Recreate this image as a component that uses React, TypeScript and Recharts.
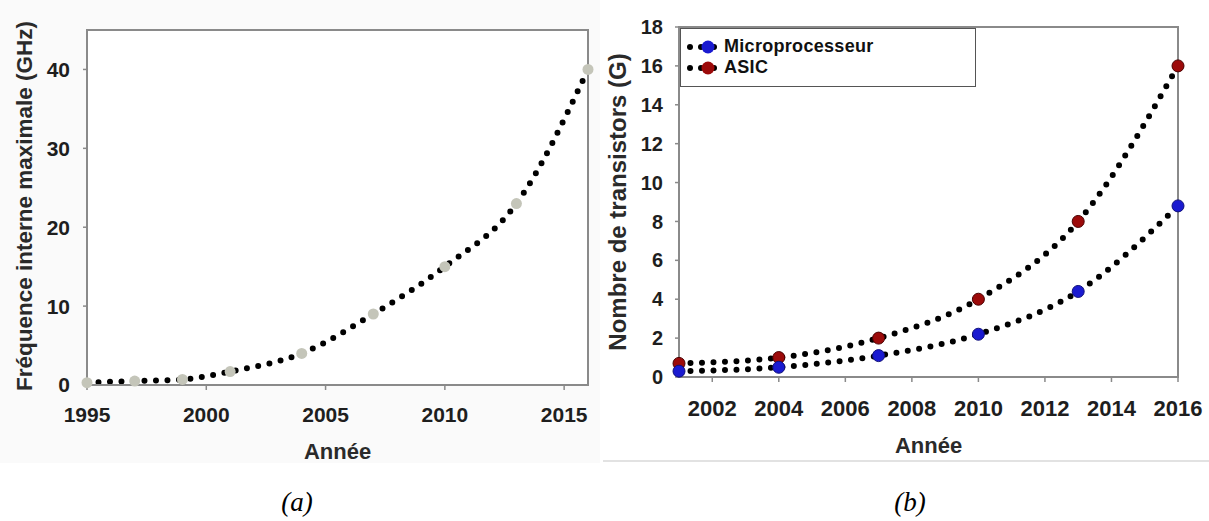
import React from 'react'
import { LineChart, Line, XAxis, YAxis, ReferenceArea, Legend, Label } from 'recharts'

// (a) max internal frequency
const freqYears = [1995, 1997, 1999, 2001, 2004, 2007, 2010, 2013, 2016]
const freqGhz = [0.3, 0.5, 0.7, 1.7, 4, 9, 15, 23, 40]
const freqTicksX = [1995, 2000, 2005, 2010, 2015]
const freqTicksY = [0, 10, 20, 30, 40]

// (b) transistor count
const transYears = [2001, 2004, 2007, 2010, 2013, 2016]
const microG = [0.3, 0.5, 1.1, 2.2, 4.4, 8.8]
const asicG = [0.7, 1.0, 2.0, 4.0, 8.0, 16.0]
const transTicksX = [2002, 2004, 2006, 2008, 2010, 2012, 2014, 2016]
const transTicksY = [0, 2, 4, 6, 8, 10, 12, 14, 16, 18]

const freqData = freqYears.map((year, i) => ({ year, ghz: freqGhz[i] }))
const transData = transYears.map((year, i) => ({ year, micro: microG[i], asic: asicG[i] }))

const GREY = '#8a8a8a'
const SANS = "'Liberation Sans', Arial, sans-serif"
const tickStyle = { fontSize: 21, fontWeight: 700, fill: '#1e1e1e', fontFamily: SANS }
const titleStyle = { fontSize: 22, fontWeight: 700, fill: '#2a2a2a', fontFamily: SANS }

const dotted = {
  stroke: '#000',
  strokeWidth: 6,
  strokeLinecap: 'round' as const,
  strokeDasharray: '0 11.5',
  type: 'monotone' as const,
  isAnimationActive: false,
  activeDot: false,
}

function yTitle(text: string, cx: number, cy: number, size: number) {
  return () => (
    <text
      x={cx}
      y={cy}
      transform={`rotate(-90 ${cx} ${cy})`}
      textAnchor="middle"
      dominantBaseline="central"
      style={{ fontSize: size, fontWeight: 700, fill: '#2a2a2a', fontFamily: SANS }}
    >
      {text}
    </text>
  )
}

function LegendIcon({ color }: { color: string }) {
  return (
    <svg width={40} height={18} style={{ display: 'block' }}>
      <circle cx={9} cy={9} r={3} fill="#000" />
      <circle cx={20} cy={9} r={3} fill="#000" />
      <circle cx={33} cy={9} r={3} fill="#000" />
      <circle cx={27} cy={9} r={6.5} fill={color} />
    </svg>
  )
}

function TransLegend() {
  const rows = [
    { name: 'Microprocesseur', color: '#1a1ad0' },
    { name: 'ASIC', color: '#9c0a0a' },
  ]
  return (
    <div
      style={{
        width: 296,
        height: 59,
        boxSizing: 'border-box',
        border: '1.5px solid #555',
        background: '#fff',
        paddingTop: 7,
      }}
    >
      {rows.map((r) => (
        <div key={r.name} style={{ display: 'flex', alignItems: 'center', height: 21 }}>
          <LegendIcon color={r.color} />
          <div
            style={{
              marginLeft: 3,
              height: 21,
              fontFamily: SANS,
              fontWeight: 700,
              fontSize: 18,
              letterSpacing: 0.3,
              color: '#111',
              lineHeight: '21px',
            }}
          >
            {r.name}
          </div>
        </div>
      ))}
    </div>
  )
}

export default function App() {
  return (
    <div style={{ position: 'fixed', left: 0, top: 0, width: 1209, height: 521, background: '#fff' }}>
      <div style={{ position: 'absolute', left: 0, top: 0, width: 600, height: 463, background: '#fafafa' }} />
      <div style={{ position: 'absolute', left: 603, top: 460, width: 606, height: 2, background: '#e2e2e2' }} />

      <div style={{ position: 'absolute', left: 0, top: 0 }}>
        <LineChart width={600} height={470} data={freqData} margin={{ top: 30, right: 12, left: 17, bottom: 45 }}>
          <XAxis
            dataKey="year"
            type="number"
            domain={[1995, 2016]}
            ticks={freqTicksX}
            height={40}
            tickSize={5}
            tickMargin={17}
            axisLine={{ stroke: GREY, strokeWidth: 2 }}
            tickLine={{ stroke: GREY, strokeWidth: 1.5 }}
            tick={tickStyle}
          >
            <Label value="Année" position="bottom" offset={18} style={titleStyle} />
          </XAxis>
          <YAxis
            type="number"
            domain={[0, 45]}
            ticks={freqTicksY}
            width={70}
            tickSize={4}
            tickMargin={13}
            axisLine={{ stroke: GREY, strokeWidth: 2 }}
            tickLine={{ stroke: GREY, strokeWidth: 1.5 }}
            tick={tickStyle}
          >
            <Label content={yTitle('Fréquence interne maximale (GHz)', 24, 206, 22.5)} />
          </YAxis>
          <ReferenceArea x1={1995} x2={2016} y1={0} y2={45} fill="#fff" fillOpacity={1} stroke={GREY} strokeWidth={2} />
          <Line
            dataKey="ghz"
            {...dotted}
            dot={{ r: 5.5, fill: '#c4c5b9', stroke: 'none', strokeWidth: 0, strokeDasharray: 'none' }}
          />
        </LineChart>
      </div>

      <div style={{ position: 'absolute', left: 600, top: 0 }}>
        <LineChart width={609} height={470} data={transData} margin={{ top: 27, right: 31, left: 19, bottom: 53 }}>
          <XAxis
            dataKey="year"
            type="number"
            domain={[2001, 2016]}
            ticks={transTicksX}
            height={40}
            tickSize={5}
            tickMargin={18}
            axisLine={{ stroke: GREY, strokeWidth: 2 }}
            tickLine={{ stroke: GREY, strokeWidth: 1.5 }}
            tick={{ ...tickStyle, fontSize: 22 }}
          >
            <Label value="Année" position="bottom" offset={20} style={titleStyle} />
          </XAxis>
          <YAxis
            type="number"
            domain={[0, 18]}
            ticks={transTicksY}
            width={60}
            tickSize={4}
            tickMargin={12}
            axisLine={{ stroke: GREY, strokeWidth: 2 }}
            tickLine={{ stroke: GREY, strokeWidth: 1.5 }}
            tick={{ ...tickStyle, fontSize: 20 }}
          >
            <Label content={yTitle('Nombre de transistors (G)', 17, 202, 24)} />
          </YAxis>
          <ReferenceArea x1={2001} x2={2016} y1={0} y2={18} fill="#fff" fillOpacity={1} stroke={GREY} strokeWidth={2} />
          <Legend
            layout="horizontal"
            verticalAlign="middle"
            align="center"
            content={() => <TransLegend />}
            wrapperStyle={{ left: 80, top: 28, width: 296 }}
          />
          <Line dataKey="asic" name="ASIC" {...dotted} dot={false} />
          <Line dataKey="micro" name="Microprocesseur" {...dotted} dot={false} />
          <Line
            dataKey="asic"
            legendType="none"
            stroke="none"
            isAnimationActive={false}
            activeDot={false}
            dot={{ r: 6, fill: '#9c0a0a', stroke: '#4a0000', strokeWidth: 1, strokeDasharray: 'none' }}
          />
          <Line
            dataKey="micro"
            legendType="none"
            stroke="none"
            isAnimationActive={false}
            activeDot={false}
            dot={{ r: 6, fill: '#1a1ad0', stroke: '#10107a', strokeWidth: 1, strokeDasharray: 'none' }}
          />
        </LineChart>
      </div>

      <div
        style={{
          position: 'absolute',
          left: 247,
          top: 487,
          width: 100,
          textAlign: 'center',
          fontFamily: "'Liberation Serif', serif",
          fontStyle: 'italic',
          fontSize: 27,
          lineHeight: '30px',
          color: '#000',
        }}
      >
        (a)
      </div>
      <div
        style={{
          position: 'absolute',
          left: 860,
          top: 487,
          width: 100,
          textAlign: 'center',
          fontFamily: "'Liberation Serif', serif",
          fontStyle: 'italic',
          fontSize: 27,
          lineHeight: '30px',
          color: '#000',
        }}
      >
        (b)
      </div>
    </div>
  )
}
